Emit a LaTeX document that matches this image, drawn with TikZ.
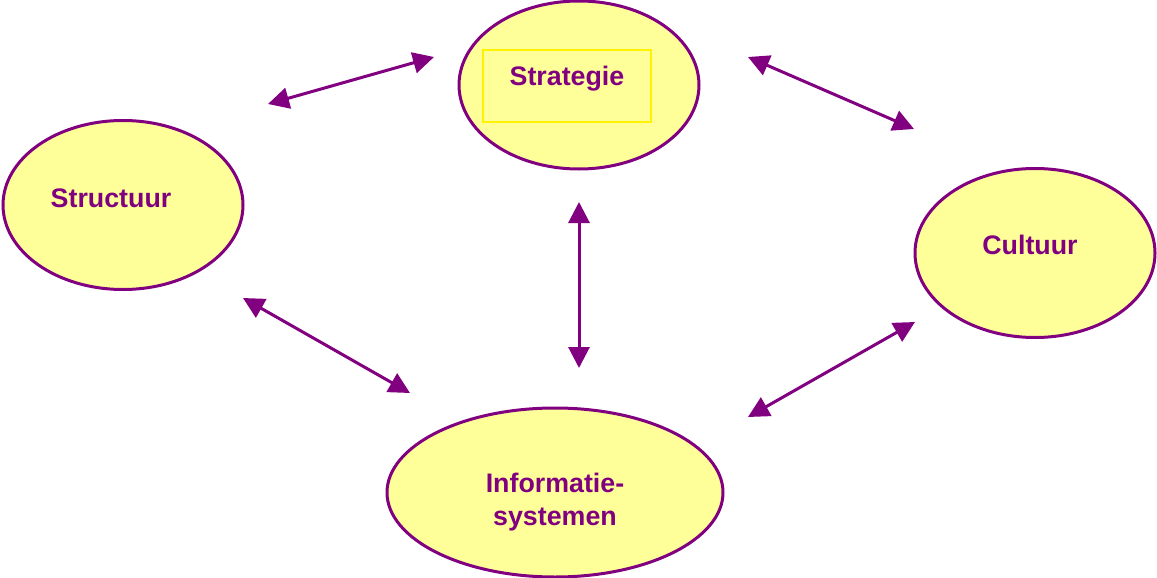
\documentclass[tikz,border=0pt]{standalone}
\usepackage{fontspec}
\setmainfont{Liberation Sans}
\usepackage{tikz}
\usetikzlibrary{shapes.geometric,arrows.meta}
\definecolor{paars}{HTML}{800080}
\definecolor{lichtgeel}{HTML}{FFFF99}
\tikzstyle{every node}=[font=\fontsize{13.4}{16.5}\selectfont\bfseries,text=paars]
\tikzstyle{bol}=[draw=paars,line width=1.5pt,fill=lichtgeel,ellipse,inner sep=0pt]
\tikzstyle{pijl}=[draw=paars,line width=1.5pt,{Triangle[length=10.5pt,width=10.5pt,fill=paars]}-{Triangle[length=10.5pt,width=10.5pt,fill=paars]}]

\begin{document}
\begin{tikzpicture}[x=0.5pt,y=-0.5pt]
\useasboundingbox (0,0) rectangle (1157,578);

\node[bol,minimum width=120pt,minimum height=84pt] (strategie) at (579,85) {};
\node[bol,minimum width=120pt,minimum height=84.5pt] (structuur) at (123,205) {};
\node[bol,minimum width=120pt,minimum height=84.5pt] (cultuur) at (1035,253) {};
\node[bol,minimum width=168pt,minimum height=84.5pt] (info) at (555,492.5) {};

\node[draw=yellow,line width=1pt,minimum width=84pt,minimum height=36pt] (kader) at (567,86) {};
\node (tstrategie) at (567,79) {Strategie};
\node (tstructuur) at (111,198) {Structuur};
\node (tcultuur) at (1030,245) {Cultuur};
\node[align=center] (tinfo) at (555,502) {Informatie-\\systemen};

\coordinate (a1) at (268,104);
\coordinate (a2) at (434,57);
\coordinate (b1) at (748,57);
\coordinate (b2) at (914,129);
\coordinate (c1) at (579,202);
\coordinate (c2) at (579,368);
\coordinate (d1) at (243,298);
\coordinate (d2) at (410,393);
\coordinate (e1) at (915,322);
\coordinate (e2) at (748,417);

\draw[pijl] (a1) -- (a2);
\draw[pijl] (b1) -- (b2);
\draw[pijl] (c1) -- (c2);
\draw[pijl] (d1) -- (d2);
\draw[pijl] (e1) -- (e2);
\end{tikzpicture}
\end{document}
